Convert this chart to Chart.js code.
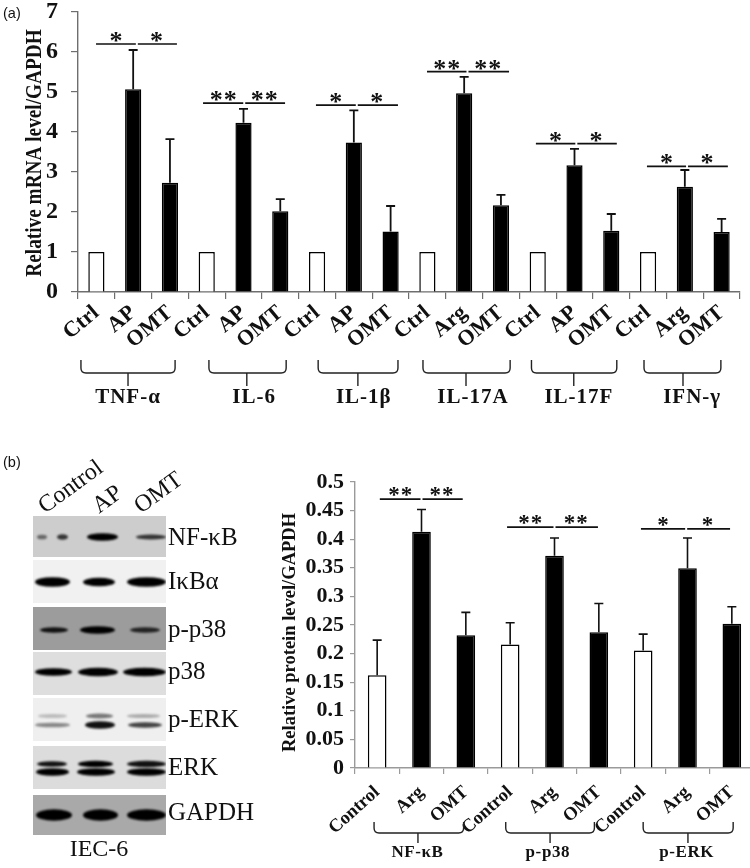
<!DOCTYPE html>
<html><head><meta charset="utf-8">
<script src="https://cdn.jsdelivr.net/npm/chart.js@4/dist/chart.umd.min.js"></script>
<style>
html,body{margin:0;padding:0;background:#fff;width:750px;height:868px;overflow:hidden}
canvas{position:absolute;left:0;display:block;filter:blur(0.3px)}
#ca{top:-40px}#cb{top:440px}
</style></head><body>
<canvas id="ca" width="750" height="480"></canvas>
<canvas id="cb" width="760" height="428"></canvas>
<script>
// ---- panel (a) data
const mrnaLabels = ['Ctrl','AP','OMT','Ctrl','AP','OMT','Ctrl','AP','OMT','Ctrl','Arg','OMT','Ctrl','AP','OMT','Ctrl','Arg','OMT'];
const mrnaValues = [1,5.07,2.73, 1,4.23,2.02, 1,3.74,1.51, 1,4.97,2.17, 1,3.17,1.53, 1,2.63,1.5];
const mrnaErrors = [0,0.98,1.09, 0,0.35,0.30, 0,0.80,0.64, 0,0.41,0.26, 0,0.41,0.42, 0,0.42,0.33];
const mrnaGroups = ['TNF-α','IL-6','IL-1β','IL-17A','IL-17F','IFN-γ'];
const mrnaStars  = ['*','**','*','**','*','*'];
const mrnaSigLevels = [6.2,4.72,4.67,5.51,3.71,3.14];
// ---- panel (b) data
const proteinLabels = ['Control','Arg','OMT','Control','Arg','OMT','Control','Arg','OMT'];
const proteinValues = [0.162,0.413,0.232, 0.216,0.371,0.2375, 0.2055,0.349,0.252];
const proteinErrors = [0.0615,0.039,0.04, 0.038,0.031,0.05, 0.0285,0.053,0.03];
const proteinGroups = ['NF-κB','p-p38','p-ERK'];
const proteinStars  = ['**','**','*'];
const proteinSigLevels = [0.47,0.421,0.418];
// ---- annotation spans, in category units: start, middle, end
const mrnaSigSpans = [[-0.01,1.10,2.19],[2.90,4.02,5.13],[5.97,7.08,8.2],[8.99,10.09,11.22],[11.95,13.05,14.15],[14.97,16.06,17.17]];
const mrnaBraces   = [[-0.42,0.86,2.14,0.86],[3.06,4.09,5.16,4.29],[6.03,7.11,8.2,7.27],[8.88,10.05,11.25,10.24],[11.83,12.98,14.15,13.12],[14.89,15.95,16.98,16.2]];
const proteinSigSpans = [[0.06,1.0,1.93],[2.93,4.0,4.98],[5.95,6.97,7.96]];
const proteinBraces   = [[-0.07,0.92,1.95,0.91],[2.9,3.9,4.9,3.85],[6.0,7.01,8.03,6.98]];

const SERIF = '"Liberation Serif","Times New Roman",serif';

function annotate(cfg){
  return { id:'annot'+cfg.name, afterDatasetsDraw(chart){
    const c = chart.ctx, x = chart.scales.x, y = chart.scales.y;
    c.save();
    // axis title
    c.save();c.translate(cfg.title[1],cfg.title[2]);c.rotate(-Math.PI/2);c.scale(1,cfg.title[4]);
    c.fillStyle='#111';c.font='bold '+cfg.title[3]+'px '+SERIF;c.textAlign='center';c.textBaseline='middle';
    c.fillText(cfg.title[0],0,0);c.restore();
    // error bars
    c.strokeStyle='#111'; c.lineWidth=cfg.errW; c.lineCap='butt';
    cfg.values.forEach((v,i)=>{
      if(!cfg.errors[i]) return;
      const px=x.getPixelForValue(i), t=y.getPixelForValue(v+cfg.errors[i]), b=y.getPixelForValue(v);
      c.beginPath(); c.moveTo(px,b); c.lineTo(px,t);
      c.moveTo(px-cfg.cap,t); c.lineTo(px+cfg.cap,t); c.stroke();
    });
    // significance lines and stars
    cfg.sig.forEach((s,g)=>{
      const ly=y.getPixelForValue(cfg.levels[g]);
      const a=x.getPixelForValue(s[0]), m=x.getPixelForValue(s[1]), e=x.getPixelForValue(s[2]);
      c.strokeStyle='#111'; c.lineWidth=1.7;
      c.beginPath(); c.moveTo(a,ly); c.lineTo(m-1,ly); c.moveTo(m+1,ly); c.lineTo(e,ly); c.stroke();
      c.fillStyle='#111'; c.font='bold '+cfg.starSize+'px '+SERIF; c.textAlign='center'; c.textBaseline='alphabetic';
      c.letterSpacing=cfg.starSpace+'px';
      c.fillText(cfg.stars[g],(a+m)/2,ly+cfg.starDrop);
      c.fillText(cfg.stars[g],(m+e)/2,ly+cfg.starDrop);
      c.letterSpacing='0px';
    });
    // group braces and names
    const top=chart.chartArea.bottom+cfg.br[0], mid=chart.chartArea.bottom+cfg.br[1], bot=chart.chartArea.bottom+cfg.br[2];
    cfg.braces.forEach((b,g)=>{
      const x0=x.getPixelForValue(b[0]), st=x.getPixelForValue(b[1]), x1=x.getPixelForValue(b[2]), r=5;
      c.strokeStyle='#222'; c.lineWidth=1.4;
      c.beginPath(); c.moveTo(x0,top); c.lineTo(x0,mid-r); c.quadraticCurveTo(x0,mid,x0+r,mid);
      c.lineTo(x1-r,mid); c.quadraticCurveTo(x1,mid,x1,mid-r); c.lineTo(x1,top);
      c.moveTo(st,mid); c.lineTo(st,bot); c.stroke();
      c.fillStyle='#111'; c.font='bold '+cfg.groupSize+'px '+SERIF; c.textAlign='center'; c.textBaseline='middle';
      c.letterSpacing=cfg.groupSpace+'px';
      c.fillText(cfg.groups[g],x.getPixelForValue(b[3]),chart.chartArea.bottom+cfg.groupDrop);
      c.letterSpacing='0px';
    });
    c.restore();
  }};
}

function makeChart(id,o){
  return new Chart(document.getElementById(id),{
    type:'bar',
    data:{labels:o.labels,datasets:[{data:o.values,
      backgroundColor:ctx=>ctx.dataIndex%3===0?'#fff':'#000',
      borderColor:'#000',borderWidth:o.borderW,barPercentage:o.barPct,categoryPercentage:1}]},
    options:{responsive:false,animation:false,
      layout:{padding:o.padding},
      plugins:{legend:{display:false},tooltip:{enabled:false},title:{display:false}},
      scales:{
        x:{offset:true,
          grid:{display:true,drawOnChartArea:false,drawTicks:true,tickLength:o.xTick,color:o.axis,lineWidth:1.2,offset:true},
          border:{display:true,color:o.axis,width:1.4},
          ticks:{autoSkip:false,minRotation:o.rot,maxRotation:o.rot,padding:o.xPad,color:'#111',font:{family:SERIF,weight:'bold',size:o.xFont}},
          afterFit:s=>{s.height=o.xHeight}},
        y:{min:0,max:o.max,
          grid:{display:true,drawOnChartArea:false,drawTicks:true,tickLength:o.yTick,color:o.axis,lineWidth:1.2},
          border:{display:true,color:o.axis,width:1.4},
          ticks:{autoSkip:false,stepSize:o.step,padding:o.yPad,color:'#111',font:{family:SERIF,weight:'bold',size:o.yFont},
            callback:v=>String(+v.toFixed(2))},
          afterFit:s=>{s.width=o.yWidth}}
      }},
    plugins:o.plugins
  });
}

const labelA={id:'labelA',afterDraw(ch){const c=ch.ctx;c.save();c.fillStyle='#111';c.font='14.5px "Liberation Sans",Arial,sans-serif';c.textBaseline='middle';c.textAlign='left';c.fillText('(a)',3,54);c.restore();}};

makeChart('ca',{labels:mrnaLabels,values:mrnaValues,borderW:1.5,barPct:0.44,axis:'#6e6e6e',
  padding:{left:0,right:10,top:52,bottom:0},xTick:7,rot:40,xPad:1,xFont:22,xHeight:148,
  max:7,step:1,yTick:7,yPad:13,yFont:24,yWidth:78,
  plugins:[labelA,annotate({name:'a',title:['Relative mRNA level/GAPDH',35,193,19.3,1.18],values:mrnaValues,errors:mrnaErrors,sig:mrnaSigSpans,levels:mrnaSigLevels,stars:mrnaStars,
    braces:mrnaBraces,groups:mrnaGroups,errW:1.8,cap:4.5,starSize:26,starSpace:1,starDrop:5,br:[68,81,94],groupSize:21,groupSpace:1,groupDrop:106})]});

// ---- western-blot panels, drawn on the second canvas
const gelTitles=['Control','AP','OMT'];
const gelNames=['NF-κB','IκBα','p-p38','p38','p-ERK','ERK','GAPDH'];
const gelBackgrounds=['#cdcdcd','#f1f1f1','#9c9c9c','#dedede','#efefef','#dcdcdc','#a9a9a9'];
const gelBands=[
 [[37,47,537,3,'#666'],[57,68,537,4,'#333'],[87,118,537,6,'#000'],[136,166,537,3.5,'#333']],
 [[35,70,582,8,'#000'],[83,115,582,7,'#000'],[127,166,582,8,'#000']],
 [[40,68,630,4,'#111'],[80,115,630,6,'#000'],[130,160,630,4,'#222']],
 [[35,72,672,6,'#000'],[78,118,672,7,'#000'],[123,166,672,7,'#000']],
 [[38,67,716,2.5,'#bbb'],[86,113,716,3.5,'#777'],[127,160,716,2.5,'#aaa'],[35,70,725,3,'#888'],[85,115,725,6,'#111'],[128,162,725,4,'#444']],
 [[37,67,764,4,'#111'],[78,113,764,5,'#000'],[127,166,764,5,'#111'],[36,69,772,6,'#000'],[77,115,772,6,'#000'],[127,166,772,6,'#000']],
 [[36,72,815,10,'#000'],[83,118,815,10,'#000'],[127,166,815,10,'#000']]
];
const gelTops=[516,560,607,652,698,746,795], gelBottoms=[557,603,650,695,741,789,835];
const gelLabelY=[538,582,630,672,720,768,813];
const gelPlugin={id:'gels',afterDraw(ch){
  const c=ch.ctx, off=440;
  c.save();
  c.fillStyle='#111';c.font='14.5px "Liberation Sans",Arial,sans-serif';c.textBaseline='middle';c.textAlign='left';c.fillText('(b)',3,463-off);
  gelBackgrounds.forEach((bg,i)=>{
    const t=gelTops[i]-off,h=gelBottoms[i]-gelTops[i];
    c.fillStyle=bg;c.fillRect(33,t,133,h);
    c.save();c.beginPath();c.rect(33,t,133,h);c.clip();
    c.filter='blur(1.3px)';
    gelBands[i].forEach(b=>{
      c.fillStyle=b[4];c.beginPath();
      c.ellipse((b[0]+b[1])/2,b[2]-off,(b[1]-b[0])/2,b[3]/2+0.8,0,0,Math.PI*2);c.fill();
    });
    c.restore();
    c.fillStyle='#111';c.font='25px '+SERIF;c.textAlign='left';c.textBaseline='middle';
    c.fillText(gelNames[i],168,gelLabelY[i]-off);
  });
  c.font='24px '+SERIF;c.textAlign='center';c.fillText('IEC-6',99,850-off);
  c.font='24px '+SERIF;c.textAlign='left';c.textBaseline='alphabetic';
  [[41,513],[95,513],[137,513]].forEach((p,i)=>{
    c.save();c.translate(p[0]+4,p[1]-off+1);c.rotate(-36*Math.PI/180);c.fillText(gelTitles[i],0,0);c.restore();
  });
  c.restore();
}};

makeChart('cb',{labels:proteinLabels,values:proteinValues,borderW:1.5,barPct:0.42,axis:'#9a9a9a',
  padding:{left:270,right:6,top:42,bottom:0},xTick:6,rot:42,xPad:7.5,xFont:18.5,xHeight:100,
  max:0.5,step:0.05,yTick:5,yPad:6,yFont:22,yWidth:85,
  plugins:[gelPlugin,annotate({name:'b',title:['Relative protein level/GAPDH',290,192.5,18.5,1],values:proteinValues,errors:proteinErrors,sig:proteinSigSpans,levels:proteinSigLevels,stars:proteinStars,
    braces:proteinBraces,groups:proteinGroups,errW:1.6,cap:4.5,starSize:23,starSpace:1,starDrop:3,br:[54,65,75],groupSize:17,groupSpace:0.6,groupDrop:85})]});
</script></body></html>
